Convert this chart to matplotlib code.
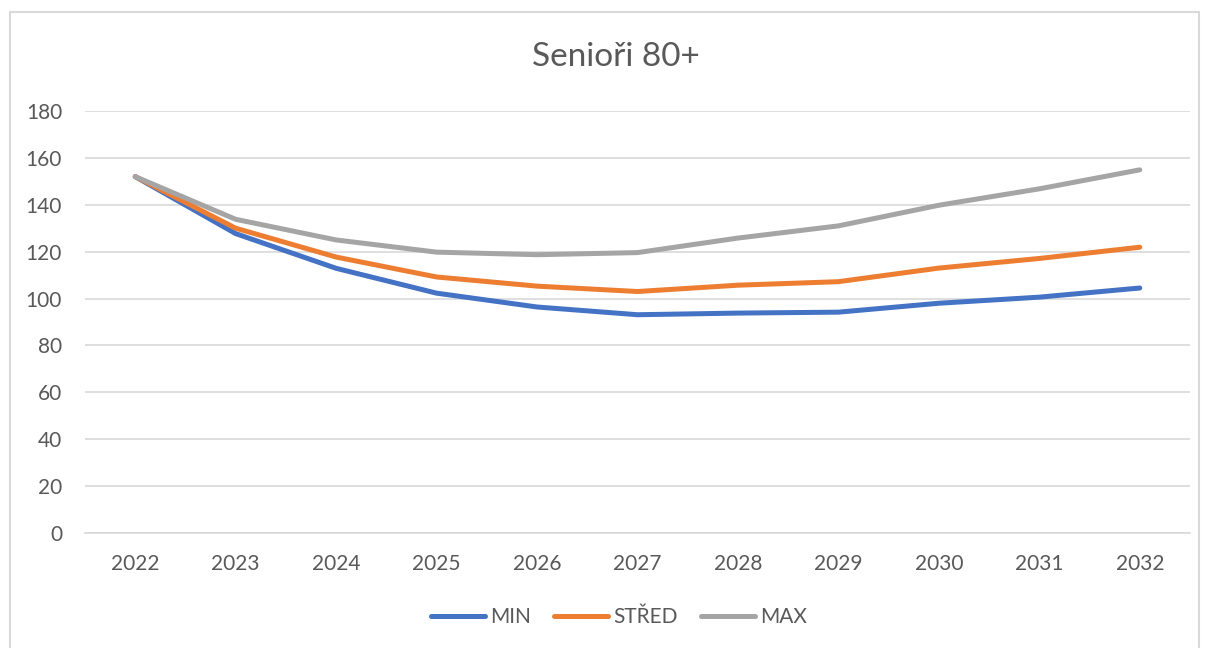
import matplotlib.pyplot as plt
from matplotlib.patches import Rectangle

# data
years = ['2022', '2023', '2024', '2025', '2026', '2027', '2028', '2029', '2030', '2031', '2032']
min_vals = [152, 127.7, 112.9, 102.3, 96.4, 93.1, 93.8, 94.2, 98.0, 100.6, 104.5]
stred_vals = [152, 130.0, 117.7, 109.2, 105.3, 103.0, 105.7, 107.2, 113.0, 117.1, 121.9]
max_vals = [152, 133.8, 125.0, 119.8, 118.7, 119.6, 125.8, 131.0, 139.8, 146.8, 154.9]

plt.rcParams['font.family'] = ['Lato', 'DejaVu Sans']
txt = '#595959'

fig = plt.figure(figsize=(12.09, 6.48), dpi=100)
# chart area border
fig.patches.append(Rectangle((10 / 1209, -0.01), 1189 / 1209, 1 - 12 / 648 + 0.01,
                             transform=fig.transFigure, fill=False,
                             edgecolor='#d9d9d9', linewidth=1.5))

ax = fig.add_axes([85 / 1209, 1 - 533 / 648, 1105 / 1209, 422 / 648])
x = range(len(years))
ax.plot(x, min_vals, color='#4472C4', lw=3.6, solid_capstyle='round', solid_joinstyle='round', label='MIN')
ax.plot(x, stred_vals, color='#ED7D31', lw=3.6, solid_capstyle='round', solid_joinstyle='round', label='STŘED')
ax.plot(x, max_vals, color='#A5A5A5', lw=3.6, solid_capstyle='round', solid_joinstyle='round', label='MAX')

ax.set_xlim(-0.5, len(years) - 0.5)
ax.set_ylim(0, 180)
ax.set_yticks(range(0, 181, 20))
ax.set_xticks(list(x))
ax.set_xticklabels(years)
ax.grid(axis='y', color='#d9d9d9', lw=1.2)
ax.set_axisbelow(True)
for s in ['top', 'right', 'left']:
    ax.spines[s].set_visible(False)
ax.spines['bottom'].set_color('#d9d9d9')
ax.spines['bottom'].set_linewidth(1.2)
ax.tick_params(length=0, labelsize=15, colors=txt)
ax.tick_params(axis='x', pad=15)
ax.tick_params(axis='y', pad=16.5)

fig.text(616 / 1209, 1 - 57 / 648, 'Senioři 80+', ha='center', va='center', fontsize=24, color=txt)

leg = fig.legend(loc='center', bbox_to_anchor=(619 / 1209, 1 - 617 / 648), ncol=3, frameon=False,
                 fontsize=15, handlelength=2.6, handletextpad=0.25, columnspacing=1.1)
for t in leg.get_texts():
    t.set_color(txt)

fig.savefig('out.png', dpi=100)
